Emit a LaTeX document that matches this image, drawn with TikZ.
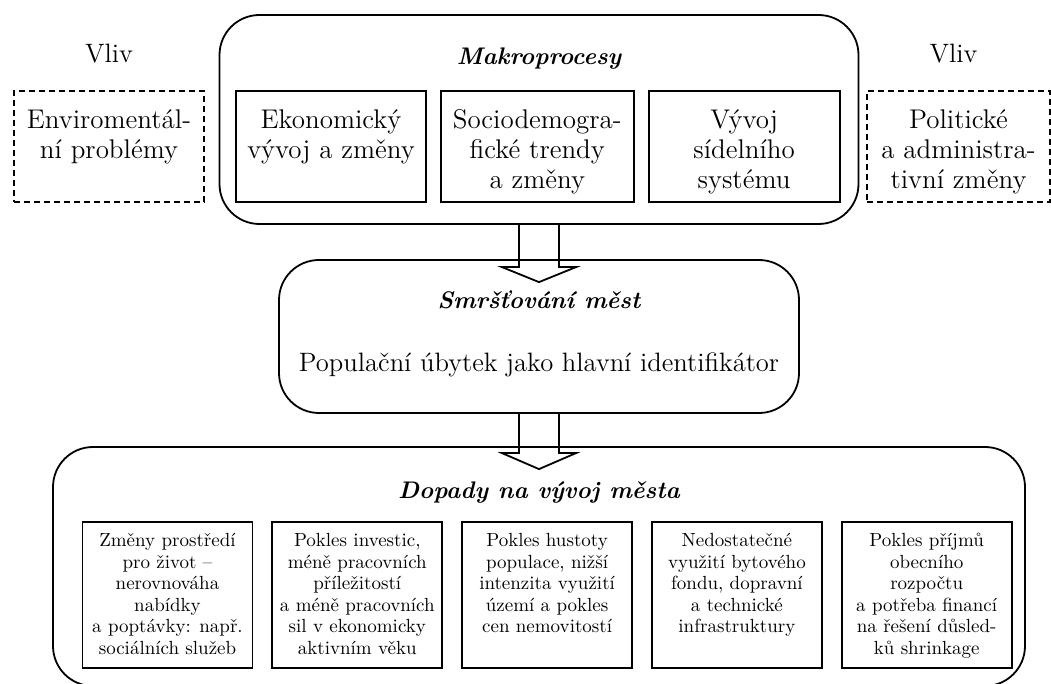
\documentclass[tikz,border=0pt]{standalone}
\usetikzlibrary{positioning}

\begin{document}
\begin{tikzpicture}[x=0.5pt, y=-0.5pt,
  bigbox/.style = {draw, rounded corners=20pt, line width=0.9pt},
  inbox/.style = {draw, line width=0.9pt, minimum height=55.5pt},
  vlivbox/.style = {draw, dash pattern=on 3pt off 2pt, line width=0.7pt,
    minimum width=95pt, minimum height=55.5pt},
  boxtext/.style = {align=center, inner sep=0pt, anchor=north,
    font=\fontsize{13.5}{15}\selectfont,
    execute at begin node={\rule{0pt}{11pt}}},
  smalltext/.style = {align=center, inner sep=0pt, anchor=north,
    font=\fontsize{9.5}{10.75}\selectfont,
    execute at begin node={\rule{0pt}{8.5pt}}},
  heading/.style = {anchor=base, inner sep=0pt,
    font=\fontsize{12}{15}\selectfont\bfseries\itshape},
  plain/.style = {anchor=base, inner sep=0pt,
    font=\fontsize{13.3}{15}\selectfont},
  flow/.style = {line width=0.9pt, line join=miter}]
  \useasboundingbox (0,0) rectangle (1051,684);

  % Makroprocesy
  \node[bigbox, minimum width=319.5pt, minimum height=104.5pt] (makro) at (539,119.5) {};
  \node[heading] at ([yshift=-25pt]makro.north) {Makroprocesy};
  \node[inbox, minimum width=95pt] (eko) at (331,146.5) {};
  \node[inbox, minimum width=96.5pt, right=6.5pt of eko] (socio) {};
  \node[inbox, minimum width=95.5pt, right=6.5pt of socio] (sidla) {};
  \node[boxtext] at ([yshift=-9.5pt]eko.north) {Ekonomický\\vývoj a změny};
  \node[boxtext] at ([yshift=-9.5pt]socio.north) {Sociodemogra-\\fické trendy\\a změny};
  \node[boxtext] at ([yshift=-9.5pt]sidla.north) {Vývoj\\sídelního\\systému};

  % Vliv
  \node[vlivbox] (envi) at (109,146.5) {};
  \node[vlivbox, minimum width=91.5pt] (polit) at (958.5,146.5) {};
  \node[plain] at ([yshift=14pt]envi.north) {Vliv};
  \node[plain] at ([xshift=-2.5pt,yshift=14pt]polit.north) {Vliv};
  \node[boxtext] at ([yshift=-9.5pt]envi.north) {Enviromentál-\\ní problémy};
  \node[boxtext] at ([yshift=-9.5pt]polit.north) {Politické\\a administra-\\tivní změny};

  % Smrstovani mest
  \node[bigbox, minimum width=260pt, minimum height=76.5pt] (smrs) at (539,336.5) {};
  \node[heading] at ([yshift=-24.5pt]smrs.north) {Smršťování měst};
  \node[plain] at ([yshift=-56pt]smrs.north) {Populační úbytek jako hlavní identifikátor};

  % Dopady
  \node[bigbox, minimum width=486pt, minimum height=119.5pt] (dopady) at (539,566.5) {};
  \node[heading] at ([yshift=-26pt]dopady.north) {Dopady na vývoj města};
  \node[inbox, minimum width=85pt, minimum height=73pt] (prostredi) at (167.5,595) {};
  \node[inbox, minimum width=85pt, minimum height=73pt, right=9pt of prostredi] (investice) {};
  \node[inbox, minimum width=85pt, minimum height=73pt, right=9pt of investice] (hustota) {};
  \node[inbox, minimum width=85pt, minimum height=73pt, right=9pt of hustota] (fond) {};
  \node[inbox, minimum width=85pt, minimum height=73pt, right=9pt of fond] (rozpocet) {};
  \node[smalltext] at ([yshift=-6pt]prostredi.north)
    {Změny prostředí\\pro život --\\nerovnováha\\nabídky\\a poptávky: např.\\sociálních služeb};
  \node[smalltext] at ([yshift=-6pt]investice.north)
    {Pokles investic,\\méně pracovních\\příležitostí\\a méně pracovních\\sil v ekonomicky\\aktivním věku};
  \node[smalltext] at ([yshift=-6pt]hustota.north)
    {Pokles hustoty\\populace, nižší\\intenzita využití\\území a pokles\\cen nemovitostí};
  \node[smalltext] at ([yshift=-6pt]fond.north)
    {Nedostatečné\\využití bytového\\fondu, dopravní\\a technické\\infrastruktury};
  \node[smalltext] at ([yshift=-6pt]rozpocet.north)
    {Pokles příjmů\\obecního\\rozpočtu\\a potřeba financí\\na řešení důsled-\\ků shrinkage};

  % block arrows
  \draw[flow] ([xshift=-10pt]makro.south) -- ([xshift=-10pt,yshift=-4pt]smrs.north)
    -- ++(-8.5pt,0) -- ([yshift=-11.5pt]smrs.north) -- ([xshift=18.5pt,yshift=-4pt]smrs.north)
    -- ++(-8.5pt,0) -- ([xshift=10pt]makro.south);
  \draw[flow] ([xshift=-10pt]smrs.south) -- ([xshift=-10pt,yshift=-3.5pt]dopady.north)
    -- ++(-8.5pt,0) -- ([yshift=-11.5pt]dopady.north) -- ([xshift=18.5pt,yshift=-3.5pt]dopady.north)
    -- ++(-8.5pt,0) -- ([xshift=10pt]smrs.south);
\end{tikzpicture}
\end{document}
